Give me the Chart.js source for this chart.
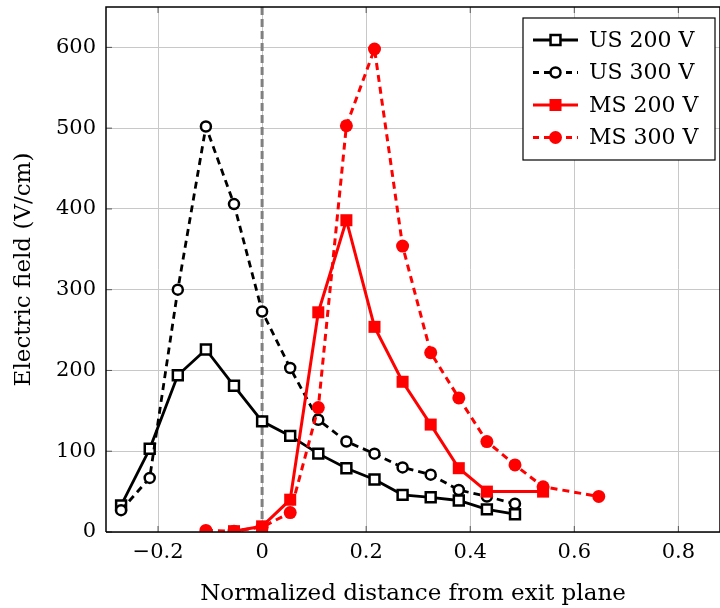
<!DOCTYPE html>
<html>
<head>
<meta charset="utf-8">
<script src="https://cdn.jsdelivr.net/npm/chart.js@4"></script>
<style>
  body { margin: 0; background: #fff; }
  #wrap { width: 720px; height: 608px; }
</style>
</head>
<body>
<div id="wrap"><canvas id="chart" width="720" height="608"></canvas></div>
<script>
// data
const xUS = [-0.271, -0.216, -0.162, -0.108, -0.054, 0, 0.054, 0.108, 0.162, 0.216, 0.270, 0.324, 0.378, 0.432, 0.486];
const us200 = [33, 103, 194, 226, 181, 137, 119, 97, 79, 65, 46, 43, 39, 28, 22];
const us300 = [27, 67, 300, 502, 406, 273, 203, 139, 112, 97, 80, 71, 52, 44, 35];
const xMS200 = [-0.054, 0, 0.054, 0.108, 0.162, 0.216, 0.270, 0.324, 0.378, 0.432, 0.540];
const ms200 = [1, 7, 40, 272, 386, 254, 186, 133, 79, 50, 50];
const xMS300 = [-0.108, -0.054, 0, 0.054, 0.108, 0.162, 0.216, 0.270, 0.324, 0.378, 0.432, 0.486, 0.540, 0.647];
const ms300 = [2, 1, 6, 24, 154, 503, 598, 354, 222, 166, 112, 83, 56, 44];
const seriesNames = ['US 200 V', 'US 300 V', 'MS 200 V', 'MS 300 V'];
const xTicks = [-0.2, 0, 0.2, 0.4, 0.6, 0.8];
const yTicks = [0, 100, 200, 300, 400, 500, 600];

const FONT = '"DejaVu Serif", "Liberation Serif", serif';
const pts = (xs, ys) => xs.map((x, i) => ({ x: x, y: ys[i] }));

const datasets = [
  {
    label: seriesNames[0], data: pts(xUS, us200), order: 4,
    borderColor: '#000', borderWidth: 2.8, pointStyle: 'rect', pointRadius: 7,
    pointBackgroundColor: '#fff', pointBorderColor: '#000', pointBorderWidth: 2.5
  },
  {
    label: seriesNames[1], data: pts(xUS, us300), order: 3,
    borderColor: '#000', borderWidth: 2.8, borderDash: [7, 5], pointStyle: 'circle', pointRadius: 5,
    pointBackgroundColor: '#fff', pointBorderColor: '#000', pointBorderWidth: 2.5
  },
  {
    label: seriesNames[2], data: pts(xMS200, ms200), order: 2,
    borderColor: '#f00', borderWidth: 3, pointStyle: 'rect', pointRadius: 8.5,
    pointBackgroundColor: '#f00', pointBorderColor: '#f00', pointBorderWidth: 0
  },
  {
    label: seriesNames[3], data: pts(xMS300, ms300), order: 1,
    borderColor: '#f00', borderWidth: 3, borderDash: [7, 5], pointStyle: 'circle', pointRadius: 6.5,
    pointBackgroundColor: '#f00', pointBorderColor: '#f00', pointBorderWidth: 0
  }
];

// axis frame, zero line and the boxed legend
const extras = {
  id: 'extras',
  beforeDatasetsDraw(chart) {
    const { ctx, chartArea: a, scales: { x, y } } = chart;
    const x0 = x.getPixelForValue(0);
    ctx.save();
    // small inner tick marks
    ctx.strokeStyle = '#555';
    ctx.lineWidth = 1;
    ctx.beginPath();
    yTicks.forEach(v => {
      const py = y.getPixelForValue(v);
      ctx.moveTo(a.left, py); ctx.lineTo(a.left + 6, py);
    });
    xTicks.forEach(v => {
      const px = x.getPixelForValue(v);
      ctx.moveTo(px, a.bottom); ctx.lineTo(px, a.bottom - 6);
      ctx.moveTo(px, a.top); ctx.lineTo(px, a.top + 6);
    });
    ctx.stroke();
    ctx.strokeStyle = '#808080';
    ctx.lineWidth = 3;
    ctx.setLineDash([8, 4]);
    ctx.beginPath();
    ctx.moveTo(x0, a.top);
    ctx.lineTo(x0, a.bottom);
    ctx.stroke();
    ctx.restore();
  },
  afterDraw(chart) {
    const { ctx, chartArea: a } = chart;
    ctx.save();
    ctx.strokeStyle = '#000';
    ctx.lineWidth = 1.5;
    ctx.beginPath();
    ctx.moveTo(a.left, a.bottom);
    ctx.lineTo(a.left, a.top);
    ctx.lineTo(a.right, a.top);
    ctx.lineTo(a.right, a.bottom);
    ctx.lineTo(a.left, a.bottom);
    ctx.stroke();

    // legend
    const bx = 523, by = 18, bw = 192, bh = 142;
    ctx.fillStyle = '#fff';
    ctx.fillRect(bx, by, bw, bh);
    ctx.lineWidth = 1.2;
    ctx.strokeRect(bx, by, bw, bh);
    ctx.font = '22px ' + FONT;
    ctx.textBaseline = 'middle';
    chart.data.datasets.forEach((ds, i) => {
      const cy = 40 + i * 32.5;
      ctx.strokeStyle = ds.borderColor;
      ctx.lineWidth = ds.borderWidth;
      ctx.setLineDash(ds.borderDash ? [6, 5] : []);
      ctx.beginPath();
      ctx.moveTo(533, cy);
      ctx.lineTo(578, cy);
      ctx.stroke();
      ctx.setLineDash([]);
      const r = ds.pointRadius;
      ctx.fillStyle = ds.pointBackgroundColor;
      ctx.strokeStyle = ds.pointBorderColor;
      ctx.lineWidth = ds.pointBorderWidth;
      ctx.beginPath();
      if (ds.pointStyle === 'rect') {
        const h = r * Math.SQRT1_2;
        ctx.rect(555.5 - h, cy - h, 2 * h, 2 * h);
      } else {
        ctx.arc(555.5, cy, r, 0, Math.PI * 2);
      }
      ctx.fill();
      if (ds.pointBorderWidth) ctx.stroke();
      ctx.fillStyle = '#000';
      ctx.fillText(ds.label, 589, cy + 1);
    });
    ctx.restore();
  }
};

new Chart(document.getElementById('chart'), {
  type: 'line',
  data: { datasets: datasets },
  options: {
    responsive: false,
    animation: false,
    layout: { autoPadding: false, padding: { top: 7, right: 0, left: 0, bottom: 0 } },
    plugins: { legend: { display: false }, tooltip: { enabled: false } },
    elements: { line: { tension: 0 } },
    scales: {
      x: {
        type: 'linear', min: -0.3, max: 0.88,
        afterBuildTicks: s => { s.ticks = xTicks.map(v => ({ value: v })); },
        afterFit: s => { s.height = 76; s.paddingLeft = 0; s.paddingRight = 0; },
        grid: { color: '#c8c8c8', lineWidth: 1, drawTicks: false },
        border: { display: false },
        ticks: {
          padding: 8, color: '#000', font: { family: FONT, size: 21 },
          callback: v => (v === 0 ? '0' : v.toFixed(1).replace('-', '\u2212'))
        },
        title: {
          display: true, text: 'Normalized distance from exit plane', color: '#000',
          font: { family: FONT, size: 23 }, padding: { top: 1, bottom: 0 }
        }
      },
      y: {
        min: 0, max: 650,
        afterBuildTicks: s => { s.ticks = yTicks.map(v => ({ value: v })); },
        afterFit: s => { s.width = 106; s.paddingTop = 0; s.paddingBottom = 0; },
        grid: { color: '#c8c8c8', lineWidth: 1, drawTicks: false },
        border: { display: false },
        ticks: { padding: 10, color: '#000', font: { family: FONT, size: 21 } },
        title: {
          display: true, text: 'Electric field (V/cm)', color: '#000',
          font: { family: FONT, size: 23 }, padding: { top: 10, bottom: 0 }
        }
      }
    }
  },
  plugins: [extras]
});
</script>
</body>
</html>
